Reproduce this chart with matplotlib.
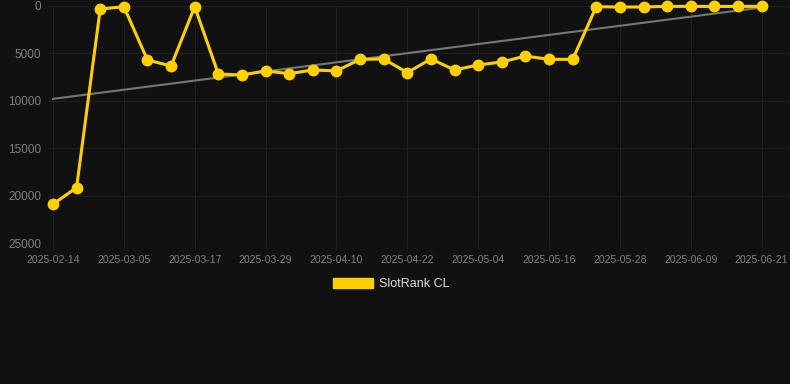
import matplotlib
matplotlib.use("Agg")
import matplotlib.pyplot as plt
from matplotlib.patches import Patch
import numpy as np

# dates (categories) and SlotRank CL values
dates = ["2025-02-14", "2025-02-21", "2025-03-01", "2025-03-05", "2025-03-09",
         "2025-03-13", "2025-03-17", "2025-03-21", "2025-03-25", "2025-03-29",
         "2025-04-02", "2025-04-06", "2025-04-10", "2025-04-14", "2025-04-18",
         "2025-04-22", "2025-04-26", "2025-04-30", "2025-05-04", "2025-05-08",
         "2025-05-12", "2025-05-16", "2025-05-20", "2025-05-24", "2025-05-28",
         "2025-06-01", "2025-06-05", "2025-06-09", "2025-06-13", "2025-06-17",
         "2025-06-21"]
rank = [20880, 19130, 320, 70, 5690, 6320, 70, 7160, 7270, 6840,
        7130, 6740, 6840, 5620, 5580, 7020, 5580, 6740, 6210, 5900,
        5270, 5620, 5620, 70, 110, 100, 40, 40, 50, 40, 40]
y_ticks = [0, 5000, 10000, 15000, 20000, 25000]

bg = "#111111"
grid_col = "#1f1f1f"
yellow = "#FFD000"

plt.rcParams['font.family'] = ['Liberation Sans', 'DejaVu Sans']

fig = plt.figure(figsize=(7.9, 3.84), dpi=100)
fig.patch.set_facecolor(bg)
ax = fig.add_axes([48 / 790, 1 - 243.3 / 384, (790 - 48) / 790, 237.3 / 384])
ax.set_facecolor(bg)

x = np.arange(len(dates))

# trend line (least squares over the series)
k, b = np.polyfit(x, rank, 1)
ax.plot([x[0], x[-1]], [k * x[0] + b, k * x[-1] + b], color="#777777", lw=1.5, zorder=2)

ax.plot(x, rank, color=yellow, lw=2.2, marker="o", ms=7.5, zorder=3,
        clip_on=False, label="SlotRank CL")

ax.set_ylim(25000, 0)
ax.set_xlim(-0.21, 31.2)
ax.set_yticks(y_ticks)
ax.set_yticklabels([str(v) for v in y_ticks])
ax.set_xticks(x[::3])
ax.set_xticklabels(dates[::3])

ax.grid(True, color=grid_col, lw=0.8)
ax.set_axisbelow(True)
for s in ax.spines.values():
    s.set_visible(False)
ax.tick_params(axis="y", length=0, pad=5, labelsize=8.5, labelcolor="#808080")
ax.tick_params(axis="x", length=5, color=grid_col, pad=3.5, labelsize=7.5, labelcolor="#808080")

# legend swatch drawn as a filled box like the reference
fig.legend(handles=[Patch(facecolor=yellow, edgecolor=yellow, label="SlotRank CL")],
           loc="center", bbox_to_anchor=(0.495, 1 - 284 / 384), frameon=False,
           fontsize=9, handlelength=3.2, handleheight=0.9, handletextpad=0.5,
           labelcolor="#dddddd")

fig.savefig("out.png", dpi=100, facecolor=bg)
